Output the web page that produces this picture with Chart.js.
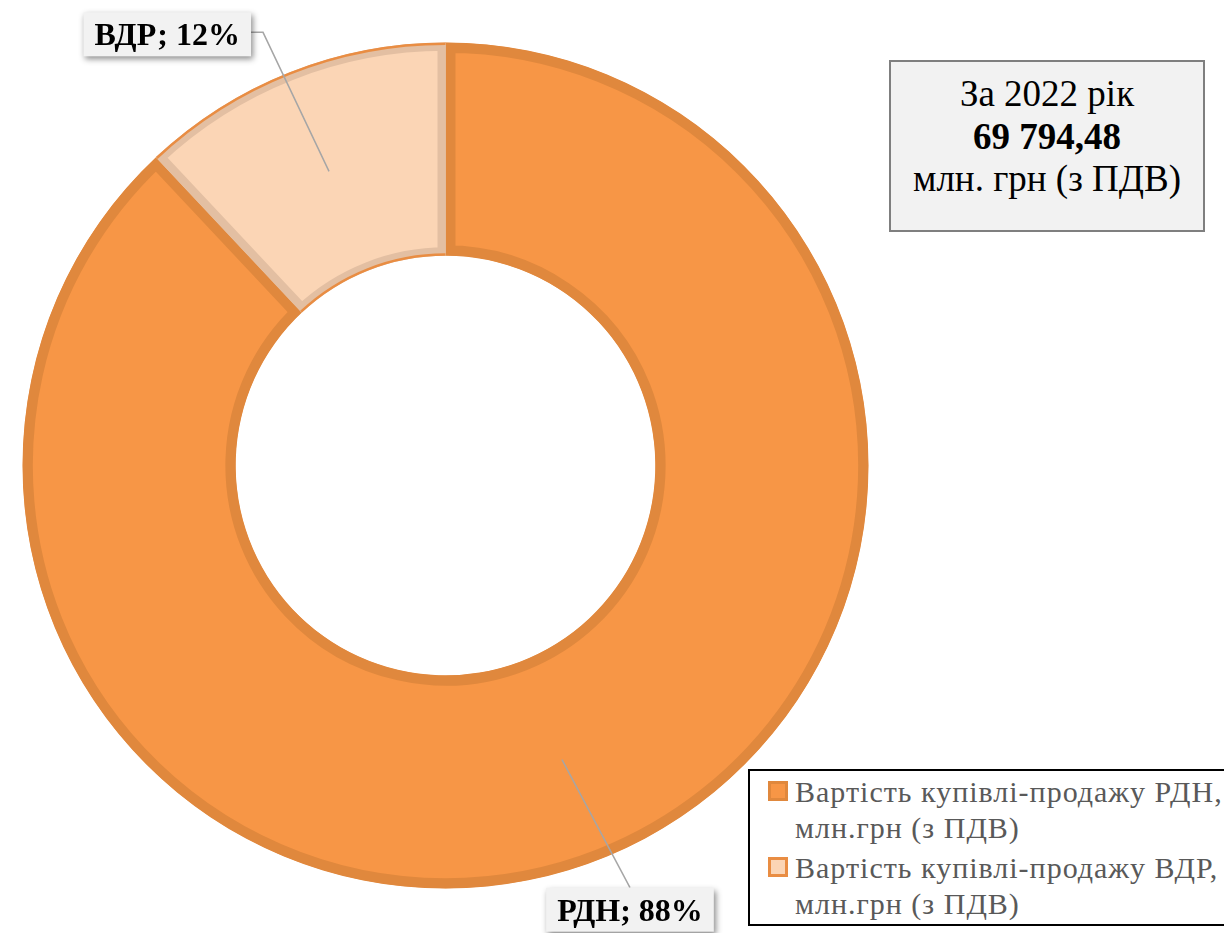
<!DOCTYPE html>
<html lang="uk">
<head>
<meta charset="utf-8">
<title>Вартість купівлі-продажу РДН та ВДР, 2022</title>
<script src="https://cdn.jsdelivr.net/npm/chart.js@4.4.1/dist/chart.umd.min.js"></script>
<style>
  html, body { margin: 0; padding: 0; background: #fff; }
  body {
    width: 1224px; height: 933px; position: relative; overflow: hidden;
    font-family: "Liberation Serif", "Times New Roman", serif;
  }
  #chart { position: absolute; left: 0; top: 0; }
  #total {
    position: absolute; left: 889px; top: 60px; width: 316px; height: 172px;
    box-sizing: border-box; border: 2px solid #7f7f7f; background: #f2f2f2;
    padding-top: 11px; text-align: center; font-size: 37px; line-height: 42.5px; color: #000;
  }
  #total b { display: block; }
  #legend {
    position: absolute; left: 748px; top: 769px; width: 520px;
    border: 2px solid #000; background: #fff; padding: 3px 0 2px 0;
    font-size: 30px; letter-spacing: 1px; line-height: 36px; color: #595959;
  }
  #legend .item { position: relative; padding-left: 45px; margin-bottom: 4px; }
  #legend .item:last-child { margin-bottom: 0; }
  #legend .mark {
    position: absolute; left: 18px; top: 7px; width: 20px; height: 20px; box-sizing: border-box;
  }
</style>
</head>
<body>
<canvas id="chart" width="1224" height="933"></canvas>
<div id="total"></div>
<div id="legend"></div>
<script>
'use strict';

// data
const categories = ['РДН', 'ВДР'];
const seriesLabels = [
  'Вартість купівлі-продажу РДН, млн.грн (з ПДВ)',
  'Вартість купівлі-продажу ВДР, млн.грн (з ПДВ)'
];
const values = [61419.14, 8375.34]; // млн грн
const reportYear = 2022;

// styles
const fillColors = ['#f79646', '#fbd5b5'];
const edgeColors = ['#e0883d', '#e3bfa2'];
const edgeWidths = [10, 8];
const outlineColor = '#e98d43';

const total = values.reduce((a, b) => a + b, 0);

function fmtMoney(v) {
  let parts = v.toFixed(2).split('.');
  return parts[0].replace(/\B(?=(\d{3})+(?!\d))/g, ' ') + ',' + parts[1];
}

// info box
document.getElementById('total').innerHTML =
  'За ' + reportYear + ' рік<b>' + fmtMoney(total) + '</b>млн. грн (з ПДВ)';

// legend
let legendHtml = '';
seriesLabels.forEach(function(label, i) {
  let markBorder = i === 0 ? edgeColors[0] : outlineColor;
  legendHtml += '<div class="item"><span class="mark" style="background:' + fillColors[i] +
    ';border:3px solid ' + markBorder + '"></span>' + label.replace(', ', ',<br>') + '</div>';
});
document.getElementById('legend').innerHTML = legendHtml;

// thin orange outline along the light slice
const outlinePlugin = {
  id: 'outline',
  afterDatasetsDraw(chart) {
    const ctx = chart.ctx;
    const arc = chart.getDatasetMeta(0).data[1];
    const p = arc.getProps(['x', 'y', 'startAngle', 'endAngle', 'innerRadius', 'outerRadius']);
    ctx.save();
    ctx.strokeStyle = outlineColor;
    ctx.lineWidth = 2.5;
    ctx.beginPath();
    ctx.arc(p.x, p.y, p.outerRadius - 1.2, p.startAngle, p.endAngle);
    ctx.stroke();
    ctx.beginPath();
    ctx.arc(p.x, p.y, p.innerRadius + 1.2, p.startAngle, p.endAngle);
    ctx.stroke();
    ctx.restore();
  }
};

// data labels with leader lines
const calloutLayout = [
  { dx: 68, dy: 128, anchor: 'top' },
  { dx: -78, dy: -159, anchor: 'right' }
];

const calloutPlugin = {
  id: 'callouts',
  afterDraw(chart) {
    const ctx = chart.ctx;
    const arcs = chart.getDatasetMeta(0).data;
    ctx.save();
    ctx.font = 'bold 32px "Liberation Serif"';
    arcs.forEach(function(arc, i) {
      const c = arc.getCenterPoint();
      const lay = calloutLayout[i];
      const text = categories[i] + '; ' + Math.round(values[i] / total * 100) + '%';
      const w = ctx.measureText(text).width + 22;
      const h = 44;
      let left, top;
      ctx.strokeStyle = '#a6a6a6';
      ctx.lineWidth = 1.5;
      ctx.beginPath();
      if (lay.anchor === 'top') {
        left = c.x + lay.dx - w / 2;
        top = c.y + lay.dy;
        ctx.moveTo(c.x, c.y);
        ctx.lineTo(c.x + lay.dx, top);
      } else {
        left = c.x + lay.dx - w;
        top = c.y + lay.dy;
        ctx.moveTo(left + w, top + 20);
        ctx.lineTo(left + w + 12, top + 20);
        ctx.lineTo(c.x, c.y);
      }
      ctx.stroke();

      ctx.save();
      ctx.shadowColor = 'rgba(0,0,0,0.45)';
      ctx.shadowBlur = 6;
      ctx.shadowOffsetX = 2;
      ctx.shadowOffsetY = 3;
      ctx.fillStyle = '#f2f2f2';
      ctx.fillRect(left, top, w, h);
      ctx.restore();

      ctx.fillStyle = '#000';
      ctx.textAlign = 'center';
      ctx.textBaseline = 'alphabetic';
      ctx.fillText(text, left + w / 2, top + 33);
    });
    ctx.restore();
  }
};

const chart = new Chart(document.getElementById('chart'), {
  type: 'doughnut',
  data: {
    labels: categories,
    datasets: [{
      data: values,
      backgroundColor: fillColors,
      borderColor: edgeColors,
      borderWidth: edgeWidths,
      borderAlign: 'inner',
      borderJoinStyle: 'miter'
    }]
  },
  options: {
    responsive: false,
    animation: false,
    events: [],
    cutout: '49.6%',
    layout: { padding: { left: 22.5, top: 42.5, right: 355.5, bottom: 44.5 } },
    plugins: {
      legend: { display: false },
      tooltip: { enabled: false }
    }
  },
  plugins: [outlinePlugin, calloutPlugin]
});
</script>
</body>
</html>
